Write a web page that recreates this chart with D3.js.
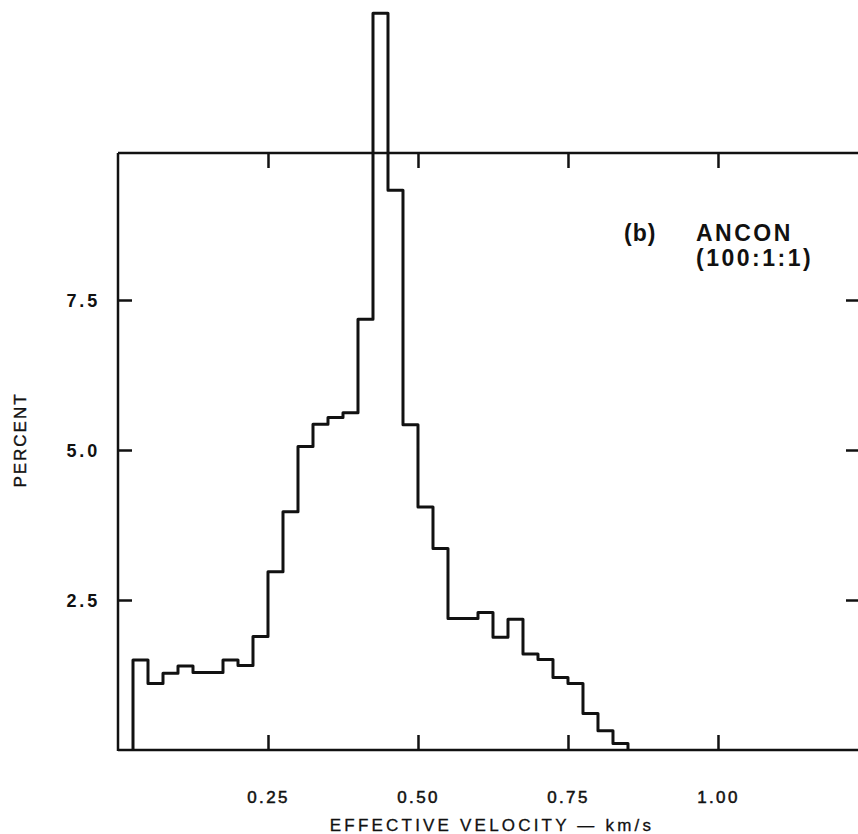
<!DOCTYPE html>
<html>
<head>
<meta charset="utf-8">
<script src="https://cdn.jsdelivr.net/npm/d3@7"></script>
<style>
  html, body { margin: 0; padding: 0; background: #fff; }
  svg { display: block; }
</style>
</head>
<body>
<svg id="chart" width="858" height="834"></svg>
<script>
// ---- data ----
const binLeft = [0.025, 0.05, 0.075, 0.1, 0.125, 0.15, 0.175, 0.2, 0.225, 0.25,
  0.275, 0.3, 0.325, 0.35, 0.375, 0.4, 0.425, 0.45, 0.475, 0.5,
  0.525, 0.55, 0.575, 0.6, 0.625, 0.65, 0.675, 0.7, 0.725, 0.75,
  0.775, 0.8, 0.825];
const binRight = [0.05, 0.075, 0.1, 0.125, 0.15, 0.175, 0.2, 0.225, 0.25, 0.275,
  0.3, 0.325, 0.35, 0.375, 0.4, 0.425, 0.45, 0.475, 0.5, 0.525,
  0.55, 0.575, 0.6, 0.625, 0.65, 0.675, 0.7, 0.725, 0.75, 0.775,
  0.8, 0.825, 0.85];
const percent = [1.50, 1.11, 1.28, 1.40, 1.29, 1.29, 1.50, 1.41, 1.89, 2.97,
  3.97, 5.06, 5.43, 5.54, 5.62, 7.18, 12.28, 9.33, 5.42, 4.05,
  3.36, 2.19, 2.19, 2.29, 1.88, 2.18, 1.60, 1.51, 1.21, 1.11,
  0.61, 0.32, 0.11];
const xTicks = [0.25, 0.50, 0.75, 1.00];
const xTickLabels = ["0.25", "0.50", "0.75", "1.00"];
const yTicks = [2.5, 5.0, 7.5];
const yTickLabels = ["2.5", "5.0", "7.5"];
const xTitle = "EFFECTIVE VELOCITY \u2014 km/s";
const yTitle = "PERCENT";
const noteTag = "(b)";
const noteLines = ["ANCON", "(100:1:1)"];

(function () {
  const svg = d3.select("#chart");
  const pL = 118, pR = 860, pB = 750, pT = 153;
  const x = d3.scaleLinear().domain([0, 1.2367]).range([pL, pR]);
  const y = d3.scaleLinear().domain([0, 9.95]).range([pB, pT]);
  const ink = "#111";
  const font = "'Liberation Sans', Arial, sans-serif";

  // frame lines
  svg.append("line").attr("x1", pL).attr("x2", pR).attr("y1", pB).attr("y2", pB)
    .attr("stroke", ink).attr("stroke-width", 2.5);
  svg.append("line").attr("x1", pL).attr("x2", pR).attr("y1", pT).attr("y2", pT)
    .attr("stroke", ink).attr("stroke-width", 2.5);
  svg.append("line").attr("x1", pL).attr("x2", pL).attr("y1", pT).attr("y2", pB + 1)
    .attr("stroke", ink).attr("stroke-width", 2.5);

  const fmtX = d => xTickLabels[xTicks.indexOf(d)];
  const fmtY = d => yTickLabels[yTicks.indexOf(d)];

  const gx = svg.append("g").attr("transform", `translate(0,${pB})`)
    .call(d3.axisBottom(x).tickValues(xTicks).tickFormat(fmtX).tickSizeInner(-15).tickSizeOuter(0).tickPadding(41));
  const gxTop = svg.append("g").attr("transform", `translate(0,${pT})`)
    .call(d3.axisTop(x).tickValues(xTicks).tickFormat("").tickSizeInner(-15).tickSizeOuter(0));
  const gy = svg.append("g").attr("transform", `translate(${pL},0)`)
    .call(d3.axisLeft(y).tickValues(yTicks).tickFormat(fmtY).tickSizeInner(-14).tickSizeOuter(0).tickPadding(18));
  const gyR = svg.append("g").attr("transform", `translate(${pR},0)`)
    .call(d3.axisRight(y).tickValues(yTicks).tickFormat("").tickSizeInner(-14).tickSizeOuter(0));

  [gx, gxTop, gy, gyR].forEach(g => {
    g.select(".domain").remove();
    g.selectAll(".tick line").attr("stroke", ink).attr("stroke-width", 2.5);
  });
  gx.selectAll("text")
    .attr("fill", ink).attr("stroke", ink).attr("stroke-width", 0.5)
    .attr("font-family", font).attr("font-size", 17).attr("letter-spacing", 2.3);
  gy.selectAll("text")
    .attr("fill", ink).attr("font-family", font)
    .attr("font-size", 18).attr("font-weight", "bold").attr("letter-spacing", 2.8)
    .attr("dy", "0.36em");

  // histogram outline
  const pts = [[binLeft[0], 0]];
  percent.forEach((v, i) => { pts.push([binLeft[i], v]); pts.push([binRight[i], v]); });
  pts.push([binRight[binRight.length - 1], 0]);
  const line = d3.line().x(d => x(d[0])).y(d => y(d[1]));
  svg.append("path").attr("d", line(pts))
    .attr("fill", "none").attr("stroke", ink).attr("stroke-width", 3)
    .attr("stroke-linejoin", "round");

  // axis titles
  svg.append("text").attr("x", 492).attr("y", 831).attr("text-anchor", "middle")
    .attr("font-family", font).attr("font-size", 17)
    .attr("stroke", ink).attr("stroke-width", 0.3)
    .attr("letter-spacing", 3.2).attr("fill", ink).text(xTitle);
  svg.append("text").attr("transform", "translate(26,440) rotate(-90)").attr("text-anchor", "middle")
    .attr("font-family", font).attr("font-size", 17)
    .attr("stroke", ink).attr("stroke-width", 0.4)
    .attr("letter-spacing", 2).attr("fill", ink).text(yTitle);

  // annotation
  const noteY = 241;
  svg.append("text").attr("x", 624).attr("y", noteY)
    .attr("font-family", font).attr("font-size", 23).attr("font-weight", "bold")
    .attr("letter-spacing", 1).attr("fill", ink).text(noteTag);
  noteLines.forEach((t, i) => {
    svg.append("text").attr("x", 696).attr("y", noteY + i * 25)
      .attr("font-family", font).attr("font-size", 23).attr("font-weight", "bold")
      .attr("letter-spacing", 2.5).attr("fill", ink).text(t);
  });
})();
</script>
</body>
</html>
